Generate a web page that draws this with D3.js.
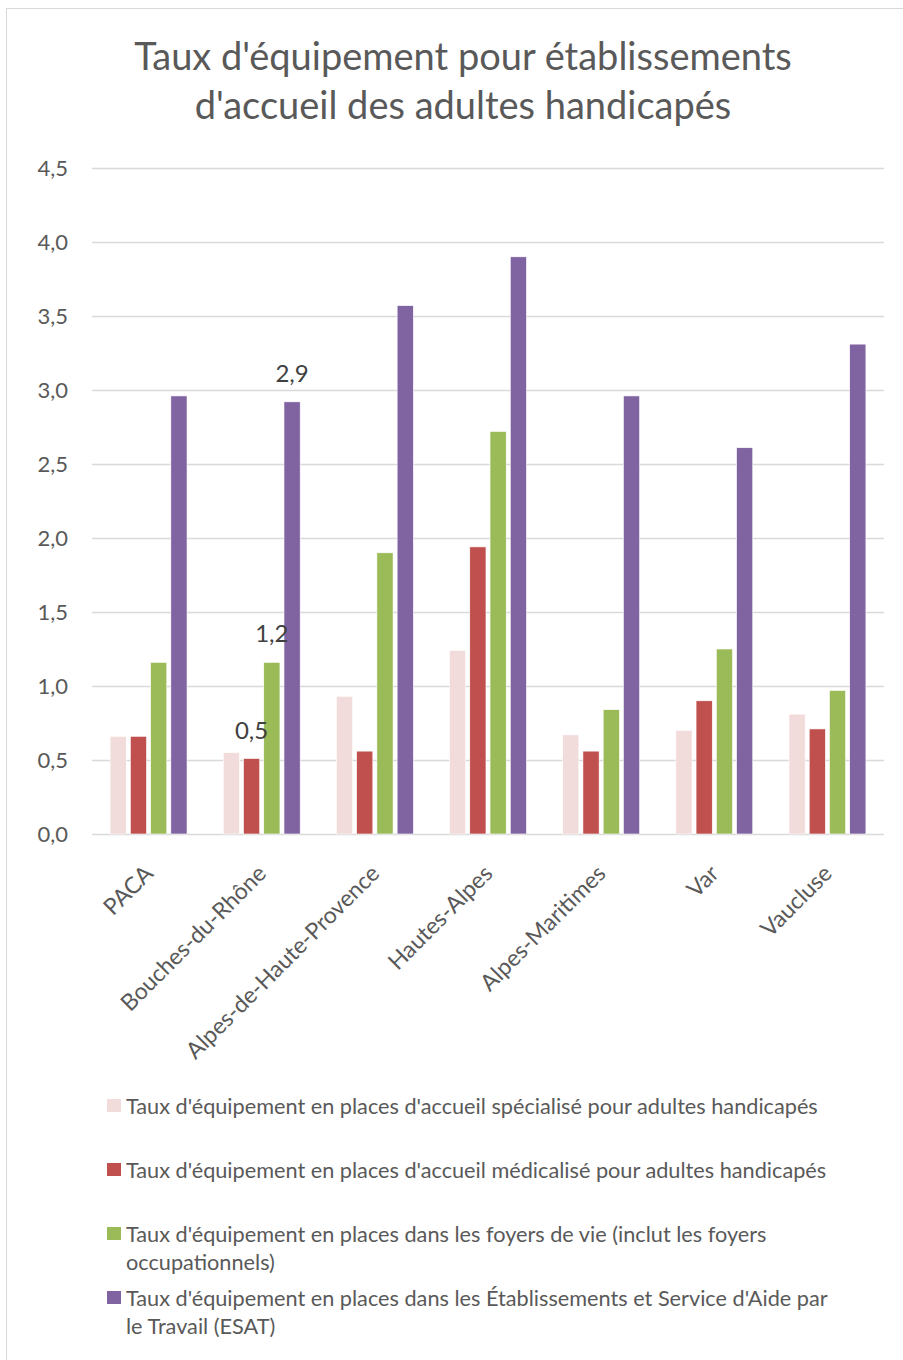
<!DOCTYPE html>
<html>
<head>
<meta charset="utf-8">
<script src="https://cdn.jsdelivr.net/npm/d3@7.9.0/dist/d3.min.js"></script>
<style>
  body { margin: 0; background: #fff; }
  svg { display: block; font-family: "Lato", "Open Sans", sans-serif; }
</style>
</head>
<body>
<svg id="chart" width="903" height="1360"></svg>
<script>
const categories = ["PACA", "Bouches-du-Rhône", "Alpes-de-Haute-Provence", "Hautes-Alpes", "Alpes-Maritimes", "Var", "Vaucluse"];

const seriesNames = [
  "Taux d'équipement en places d'accueil spécialisé pour adultes handicapés",
  "Taux d'équipement en places d'accueil médicalisé pour adultes handicapés",
  "Taux d'équipement en places dans les foyers de vie (inclut les foyers occupationnels)",
  "Taux d'équipement en places dans les Établissements et Service d'Aide par le Travail (ESAT)"
];

const masValues = [0.66, 0.55, 0.93, 1.24, 0.67, 0.70, 0.81];
const famValues = [0.66, 0.51, 0.56, 1.94, 0.56, 0.90, 0.71];
const foyerValues = [1.16, 1.16, 1.90, 2.72, 0.84, 1.25, 0.97];
const esatValues = [2.96, 2.92, 3.57, 3.90, 2.96, 2.61, 3.31];

const yTicks = [0, 0.5, 1, 1.5, 2, 2.5, 3, 3.5, 4, 4.5];

// data labels shown only on Bouches-du-Rhône
const dataLabels = [
  { cat: "Bouches-du-Rhône", series: 1, text: "0,5" },
  { cat: "Bouches-du-Rhône", series: 2, text: "1,2" },
  { cat: "Bouches-du-Rhône", series: 3, text: "2,9" }
];

// legend text split the way the original wraps it
const legendLines = [
  ["Taux d'équipement en places d'accueil spécialisé pour adultes handicapés"],
  ["Taux d'équipement en places d'accueil médicalisé pour adultes handicapés"],
  ["Taux d'équipement en places dans les foyers de vie (inclut les foyers", "occupationnels)"],
  ["Taux d'équipement en places dans les Établissements et Service d'Aide par", "le Travail (ESAT)"]
];

const colors = ["#F2DCDB", "#C0504D", "#9BBB59", "#8064A2"];
const allSeries = [masValues, famValues, foyerValues, esatValues];

const svg = d3.select("#chart");
const textColor = "#595959";

// outer frame
svg.append("rect")
  .attr("x", 6.5).attr("y", 8.5)
  .attr("width", 910).attr("height", 1370)
  .attr("fill", "none").attr("stroke", "#D9D9D9");

// title
const title = svg.append("text")
  .attr("text-anchor", "middle")
  .attr("fill", textColor).attr("font-size", 38);
title.append("tspan").attr("x", 463).attr("y", 70).text("Taux d'équipement  pour établissements");
title.append("tspan").attr("x", 463).attr("y", 119).text("d'accueil des adultes handicapés");

const plotLeft = 92, plotRight = 884, plotTop = 168, plotBottom = 834;

const y = d3.scaleLinear().domain([0, 4.5]).range([plotBottom, plotTop]);

const x0 = d3.scaleBand().domain(categories).range([plotLeft, plotRight])
  .paddingInner(0.32).paddingOuter(0.16);
const x1 = d3.scaleBand().domain(d3.range(4)).range([0, x0.bandwidth()])
  .paddingInner(0.2);

// gridlines + y labels
const yAxis = svg.append("g").attr("transform", `translate(${plotLeft},0)`)
  .call(d3.axisLeft(y).tickValues(yTicks)
    .tickSize(-(plotRight - plotLeft))
    .tickPadding(24)
    .tickFormat(d => d3.format(".1f")(d).replace(".", ",")));
yAxis.select(".domain").remove();
yAxis.selectAll("line").attr("stroke", "#D9D9D9").attr("stroke-width", 1.3);
yAxis.selectAll("text").attr("fill", textColor).attr("font-size", 22)
  .attr("font-family", "Lato, sans-serif");

// bars
const groups = svg.append("g").selectAll("g")
  .data(categories)
  .join("g")
  .attr("transform", d => `translate(${x0(d)},0)`);

groups.selectAll("rect")
  .data((d, i) => allSeries.map((s, k) => ({ k, v: s[i] })))
  .join("rect")
  .attr("x", d => x1(d.k))
  .attr("width", x1.bandwidth())
  .attr("y", d => y(d.v))
  .attr("height", d => y(0) - y(d.v))
  .attr("fill", d => colors[d.k])
  .attr("stroke", "#fff").attr("stroke-width", 0.6);

// data labels
dataLabels.forEach(l => {
  const i = categories.indexOf(l.cat);
  const v = allSeries[l.series][i];
  svg.append("text")
    .attr("x", x0(l.cat) + x1(l.series) + x1.bandwidth() / 2)
    .attr("y", y(v) - 20)
    .attr("text-anchor", "middle")
    .attr("fill", "#404040")
    .attr("font-size", 24)
    .text(l.text);
});

// x labels
svg.append("g").selectAll("text")
  .data(categories)
  .join("text")
  .attr("transform", d => `translate(${x0(d) + x0.bandwidth() / 2 + 6},875) rotate(-45)`)
  .attr("text-anchor", "end")
  .attr("fill", textColor)
  .attr("font-size", 23)
  .text(d => d);

// legend
const legend = svg.append("g");
legendLines.forEach((lines, k) => {
  const cy = 1106 + k * 64;
  legend.append("rect")
    .attr("x", 107).attr("y", cy - 7)
    .attr("width", 14).attr("height", 13)
    .attr("fill", colors[k]);
  const t = legend.append("text")
    .attr("fill", textColor).attr("font-size", 21.7);
  lines.forEach((ln, j) => {
    t.append("tspan").attr("x", 126).attr("y", cy + j * 28).attr("dy", "0.35em").text(ln);
  });
});
</script>
</body>
</html>
